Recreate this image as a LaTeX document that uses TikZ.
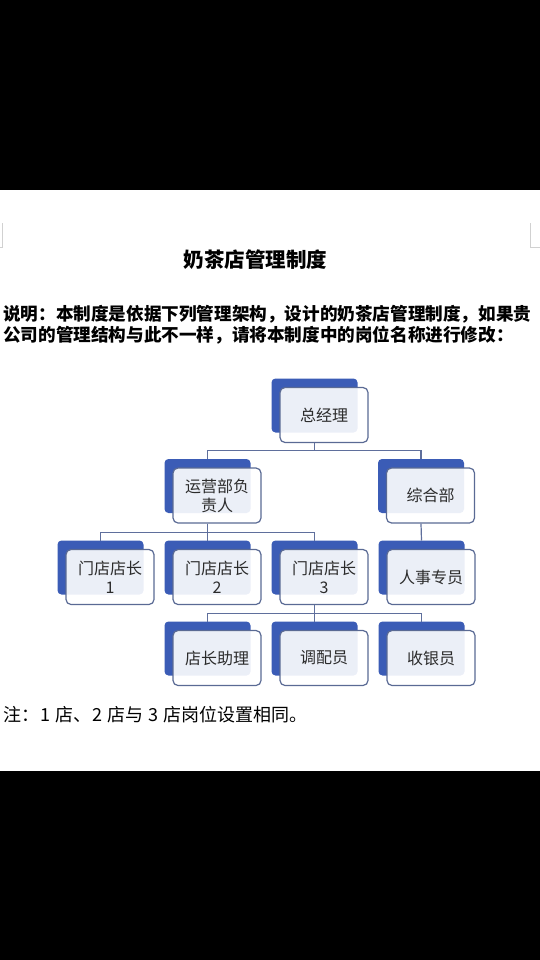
\documentclass[tikz,border=0pt]{standalone}
\usepackage{fontspec}
\setmainfont{Noto Sans CJK SC}
\usepackage{tikz}
\usetikzlibrary{positioning}

\definecolor{boxblue}{HTML}{3B5CB6}
\definecolor{boxline}{HTML}{5A6A94}
\definecolor{linkgrey}{HTML}{5F6F9C}
\definecolor{txtgrey}{HTML}{2B2B2B}

\begin{document}
\begin{tikzpicture}[x=1pt, y=-1pt, node distance = 27pt and 21pt]
\tikzstyle{back}=[fill=boxblue, rounded corners=4pt, minimum width=86pt, minimum height=54pt, inner sep=0pt, outer sep=0pt]
\tikzstyle{front}=[draw=boxline, line width=1.2pt, fill=white, fill opacity=0.9, text opacity=1, rounded corners=5pt, minimum width=88pt, minimum height=55pt, inner sep=0pt, text=txtgrey, align=center, font=\fontsize{16}{19}\selectfont]
\tikzstyle{link}=[draw=linkgrey, line width=1.2pt]
\tikzstyle{cropmark}=[draw=black!18, line width=0.8pt]

\useasboundingbox (0,0) rectangle (540,960);
\fill[black] (0,0) rectangle (540,960);
\fill[white] (0,190) rectangle (540,771);

\draw[cropmark] (0,247) -- (2.7,247) -- (2.7,223);
\draw[cropmark] (540,247) -- (530,247) -- (530,223);

\node[inner sep=0pt, font=\fontsize{20.5}{23}\selectfont\bfseries] (title) at (255.5,260) {奶茶店管理制度};
\node[inner sep=0pt, anchor=west, align=left, font=\fontsize{17.6}{21}\selectfont\bfseries] (intro) at (3,325)
  {说明：本制度是依据下列管理架构，设计的奶茶店管理制度，如果贵\\公司的管理结构与此不一样，请将本制度中的岗位名称进行修改：};

\node[back] (gm) at (314.5,405.5) {};
\node[back] (ops) at (207.5,486) {};
\node[back] (gen) at (421,486) {};

\node[back] (s1) at (100.5,567.5) {};
\node[back] (s2)[right=of s1] {};
\node[back] (s3)[right=of s2] {};
\node[back] (hr)[right=of s3] {};

\node[back] (ast)[below=of s2] {};
\node[back] (mix)[below=of s3] {};
\node[back] (cash)[below=of hr] {};

\node[front] (gm') at ([shift={(9.5,9.5)}]gm.center) {总经理};
\node[front] (ops') at ([shift={(9.5,9.5)}]ops.center) {运营部负\\责人};
\node[front] (gen') at ([shift={(9.5,9.5)}]gen.center) {综合部};
\node[front] (s1') at ([shift={(9.5,9.5)}]s1.center) {门店店长\\1};
\node[front] (s2') at ([shift={(9.5,9.5)}]s2.center) {门店店长\\2};
\node[front] (s3') at ([shift={(9.5,9.5)}]s3.center) {门店店长\\3};
\node[front] (hr') at ([shift={(9.5,9.5)}]hr.center) {人事专员};
\node[front] (ast') at ([shift={(9.5,9.5)}]ast.center) {店长助理};
\node[front] (mix') at ([shift={(9.5,9.5)}]mix.center) {调配员};
\node[front] (cash') at ([shift={(9.5,9.5)}]cash.center) {收银员};

\draw[link] (gm.center |- gm'.south) -- ++(0,7) -| (ops.north);
\draw[link] (gm.center |- gm'.south) -- ++(0,7) -| (gen.north);

\draw[link] (ops.center |- ops'.south) -- ++(0,8.5) -| (s1.north);
\draw[link] (ops.center |- ops'.south) -- ++(0,8.5) -| (s2.north);
\draw[link] (ops.center |- ops'.south) -- ++(0,8.5) -| (s3.north);

\draw[link] (gen.center |- gen'.south) -- (hr.north);

\draw[link] (s3.center |- s3'.south) -- ++(0,8.5) -| (ast.north);
\draw[link] (s3.center |- s3'.south) -- ++(0,8.5) -| (mix.north);
\draw[link] (s3.center |- s3'.south) -- ++(0,8.5) -| (cash.north);

\node[inner sep=0pt, anchor=west, font=\fontsize{18}{21}\selectfont] (note) at (3,715)
  {注：\hspace{1pt}1\hspace{5pt}店、\hspace{1pt}2\hspace{5pt}店与\hspace{5pt}3\hspace{5pt}店岗位设置相同。};

\end{tikzpicture}
\end{document}
